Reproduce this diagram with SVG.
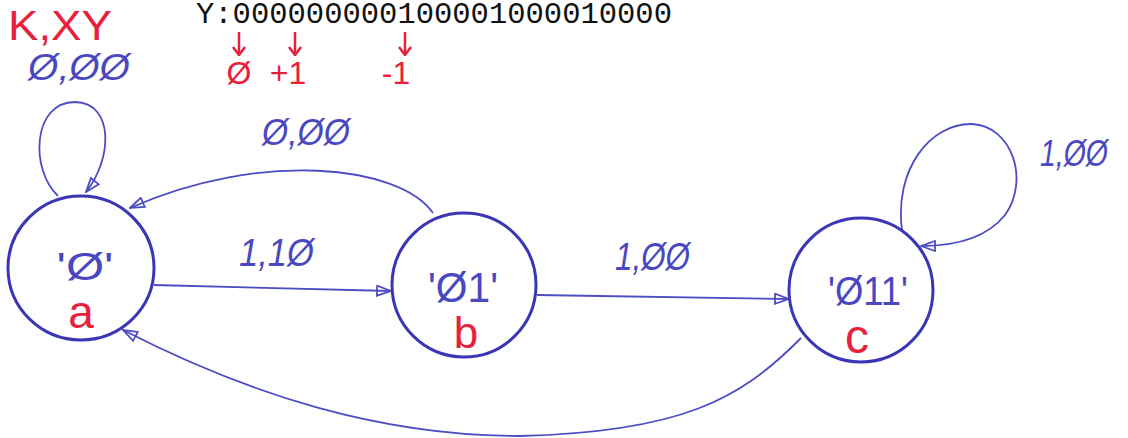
<svg xmlns="http://www.w3.org/2000/svg" width="1128" height="438" viewBox="0 0 1128 438">
<defs>
<style>
.node{fill:none;stroke:#3b36b5;stroke-width:3}
.edge{fill:none;stroke:#4c4cc4;stroke-width:1.8}
.blue{fill:#4a47c0;font-family:"Liberation Sans",Arial,sans-serif}
.red{fill:#e8203c;font-family:"Liberation Sans",Arial,sans-serif}
.lbl{font-style:italic}
.redarrow{stroke:#e8203c;stroke-width:2.5;fill:none}
</style>
<marker id="arr" viewBox="0 0 16 12" refX="15" refY="6" markerWidth="16" markerHeight="12" markerUnits="userSpaceOnUse" orient="auto">
<path d="M1,1 L15,6 L1,11 Z" fill="none" stroke="#4c4cc4" stroke-width="1.8"/>
</marker>
<marker id="rarr" viewBox="0 0 14 14" refX="7" refY="13" markerWidth="14" markerHeight="14" markerUnits="userSpaceOnUse" orient="0">
<path d="M1,5 L7,13 L13,5" fill="none" stroke="#e8203c" stroke-width="2.5"/>
</marker>
</defs>
<rect width="1128" height="438" fill="#ffffff"/>

<g id="header">
<text x="196" y="23" font-family="'Liberation Mono','Courier New',monospace" font-size="29" fill="#111" textLength="476" lengthAdjust="spacingAndGlyphs">Y:000000000100001000010000</text>
<text class="red" x="8" y="40" font-size="42" textLength="104" lengthAdjust="spacingAndGlyphs">K,XY</text>
<text class="blue lbl" x="28" y="80" font-size="36" textLength="102" lengthAdjust="spacingAndGlyphs">Ø,ØØ</text>
<line class="redarrow" x1="239" y1="32" x2="239" y2="55" marker-end="url(#rarr)"/>
<line class="redarrow" x1="295" y1="32" x2="295" y2="55" marker-end="url(#rarr)"/>
<line class="redarrow" x1="405" y1="32" x2="405" y2="55" marker-end="url(#rarr)"/>
<text class="red" x="239" y="84" font-size="32" text-anchor="middle">Ø</text>
<text class="red" x="288" y="84" font-size="32" text-anchor="middle">+1</text>
<text class="red" x="396" y="84" font-size="32" text-anchor="middle">-1</text>
</g>

<g id="connectors">
<path class="edge" d="M58,196 C30,170 32,102 75,102 C115,103 112,160 86,192" marker-end="url(#arr)"/>
<path class="edge" d="M433,213 C400,165 260,150 130,208" marker-end="url(#arr)"/>
<path class="edge" d="M154,285 L391,291" marker-end="url(#arr)"/>
<path class="edge" d="M537,295 L789,299" marker-end="url(#arr)"/>
<path class="edge" d="M902,230 C894,170 930,123 972,124 C1012,126 1030,180 1005,215 C985,240 950,246 921,246" marker-end="url(#arr)"/>
<path class="edge" d="M801,338 C740,400 680,432 520,436 C380,436 250,395 123,330" marker-end="url(#arr)"/>
<text class="blue lbl" x="262" y="145" font-size="36" textLength="88" lengthAdjust="spacingAndGlyphs">Ø,ØØ</text>
<text class="blue lbl" x="239" y="266" font-size="38" textLength="75" lengthAdjust="spacingAndGlyphs">1,1Ø</text>
<text class="blue lbl" x="615" y="270" font-size="38" textLength="75" lengthAdjust="spacingAndGlyphs">1,ØØ</text>
<text class="blue lbl" x="1040" y="166" font-size="36" textLength="68" lengthAdjust="spacingAndGlyphs">1,ØØ</text>
</g>

<g id="node-a">
<ellipse class="node" cx="81" cy="268" rx="73" ry="72"/>
<text class="blue" x="85" y="280" font-size="38" text-anchor="middle" textLength="57" lengthAdjust="spacingAndGlyphs">'Ø'</text>
<text class="red" x="81" y="328" font-size="46" text-anchor="middle">a</text>
</g>

<g id="node-b">
<ellipse class="node" cx="464" cy="285" rx="72" ry="72"/>
<text class="blue" x="463" y="302" font-size="42" text-anchor="middle" textLength="70" lengthAdjust="spacingAndGlyphs">'Ø1'</text>
<text class="red" x="466" y="348" font-size="44" text-anchor="middle">b</text>
</g>

<g id="node-c">
<ellipse class="node" cx="861" cy="290" rx="72" ry="72"/>
<text class="blue" x="868" y="305" font-size="40" text-anchor="middle" textLength="80" lengthAdjust="spacingAndGlyphs">'Ø11'</text>
<text class="red" x="857" y="353" font-size="48" text-anchor="middle">c</text>
</g>
</svg>
